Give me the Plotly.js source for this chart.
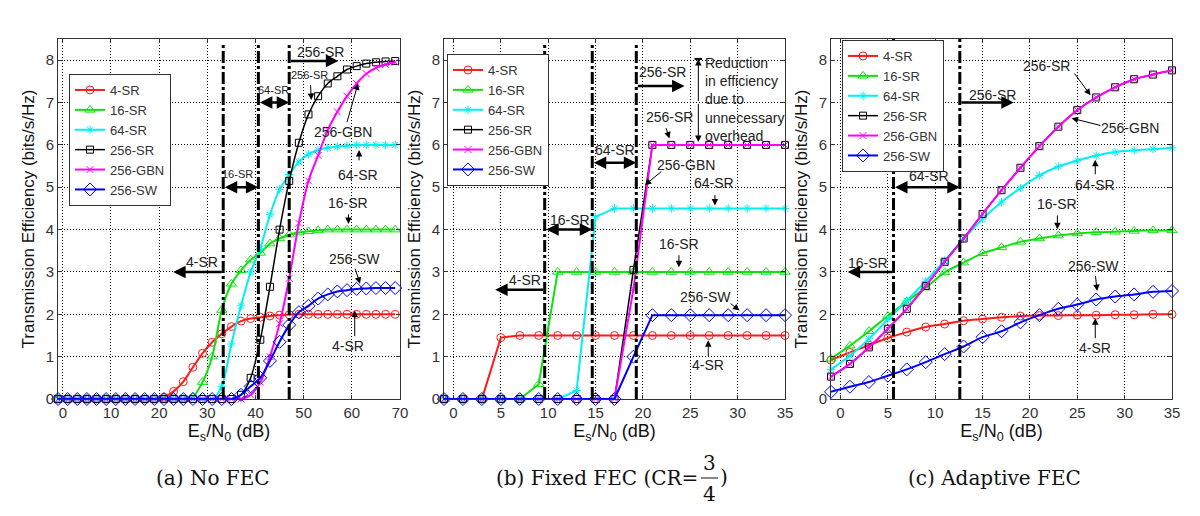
<!DOCTYPE html>
<html>
<head>
<meta charset="utf-8">
<script src="https://cdn.plot.ly/plotly-3.0.1.min.js"></script>
<style>html,body{margin:0;padding:0;background:#fff}#chart{width:1200px;height:516px}</style>
</head>
<body>
<div id="chart"></div>
<script>
// ---------------- DATA ----------------
const seriesNames = ['4-SR', '16-SR', '64-SR', '256-SR', '256-GBN', '256-SW'];

// (a) No FEC
const xA = [-1,1,3,5,7,9,11,13,15,17,19,21,23,25,27,29,31,33,35,37,39,41,43,45,47,49,51,53,55,57,59,61,63,65,67,69];
const a4SR   = [0,0,0,0,0,0,0,0,0,0,0,0.04,0.18,0.41,0.75,1.08,1.34,1.54,1.71,1.84,1.9,1.93,1.96,1.98,1.99,2,2,2,2,2,2,2,2,2,2,2];
const a16SR  = [0,0,0,0,0,0,0,0,0,0,0,0,0,0,0.05,0.4,1.0,2.1,2.72,3.04,3.29,3.45,3.67,3.79,3.88,3.93,3.96,3.98,4,4,4,4,4,4,4,4];
const a64SR  = [0,0,0,0,0,0,0,0,0,0,0,0,0,0,0,0,0,0.3,1.3,2.2,3.0,3.55,4.35,4.95,5.3,5.6,5.78,5.88,5.93,5.96,5.98,6,6,6,6,6];
const a256SR = [0,0,0,0,0,0,0,0,0,0,0,0,0,0,0,0,0,0,0,0.1,0.5,1.4,2.65,4.0,5.15,6.05,6.72,7.15,7.45,7.62,7.78,7.86,7.92,7.95,7.97,7.98];
const a256GBN= [0,0,0,0,0,0,0,0,0,0,0,0,0,0,0,0,0,0,0,0,0.1,0.4,1.0,1.78,2.85,4.15,5.15,5.75,6.35,6.78,7.15,7.45,7.68,7.82,7.9,7.95];
const a256SW = [0,0,0,0,0,0,0,0,0,0,0,0,0,0,0,0,0,0,0,0.1,0.3,0.5,0.9,1.35,1.75,2.05,2.2,2.37,2.47,2.54,2.57,2.6,2.61,2.62,2.62,2.62];

// (b) Fixed FEC
const xB = [-1,1,3,5,7,9,11,13,15,17,19,21,23,25,27,29,31,33,35];
const b4SR   = [0,0,0,1.45,1.5,1.5,1.5,1.5,1.5,1.5,1.5,1.5,1.5,1.5,1.5,1.5,1.5,1.5,1.5];
const b16SR  = [0,0,0,0,0,0.35,3,3,3,3,3,3,3,3,3,3,3,3,3];
const b64SR  = [0,0,0,0,0,0,0,0.2,4.3,4.5,4.5,4.5,4.5,4.5,4.5,4.5,4.5,4.5,4.5];
const b256SR = [0,0,0,0,0,0,0,0,0,0,3.05,6,6,6,6,6,6,6,6];
const b256GBN= [0,0,0,0,0,0,0,0,0,0,2.6,6,6,6,6,6,6,6,6];
const b256SW = [0,0,0,0,0,0,0,0,0,0,1.0,1.98,1.98,1.98,1.98,1.98,1.98,1.98,1.98];

// (c) Adaptive FEC
const xC = [-1,1,3,5,7,9,11,13,15,17,19,21,23,25,27,29,31,33,35];
const c4SR   = [0.92,1.1,1.27,1.44,1.58,1.7,1.77,1.85,1.89,1.93,1.96,1.97,1.97,1.98,1.98,1.99,1.99,2,2];
const c16SR  = [0.95,1.26,1.6,1.96,2.3,2.63,2.99,3.22,3.44,3.58,3.71,3.79,3.86,3.91,3.94,3.95,3.97,3.98,3.98];
const c64SR  = [0.7,1.02,1.42,1.88,2.32,2.78,3.27,3.78,4.25,4.65,4.98,5.28,5.49,5.63,5.75,5.83,5.87,5.9,5.93];
const c256SR = [0.53,0.83,1.22,1.66,2.13,2.67,3.24,3.79,4.37,4.93,5.46,5.97,6.43,6.82,7.12,7.36,7.55,7.66,7.76];
const c256GBN= [0.53,0.83,1.22,1.66,2.13,2.67,3.24,3.79,4.37,4.93,5.46,5.97,6.43,6.82,7.12,7.36,7.55,7.66,7.76];
const c256SW = [0.17,0.29,0.4,0.55,0.7,0.87,1.06,1.24,1.46,1.6,1.81,1.98,2.13,2.23,2.35,2.42,2.47,2.53,2.55];

const xTicksA = [0,10,20,30,40,50,60,70];
const xTicksBC = [0,5,10,15,20,25,30,35];
const yTicks = [0,1,2,3,4,5,6,7,8];
const captions = ['(a) No FEC', '(b) Fixed FEC (CR=', '(c) Adaptive FEC'];

// ---------------- STYLE ----------------
const FONT = 'Liberation Sans, Arial, sans-serif';
const TXT = '#222';
const styles = {
  '4-SR':   {color:'#ff1a1a', symbol:'circle-open', size:8, width:2},
  '16-SR':  {color:'#10e010', symbol:'triangle-up-open', size:9, width:2},
  '64-SR':  {color:'#00f0f0', symbol:'asterisk-open', size:7, width:2},
  '256-SR': {color:'#000000', symbol:'square-open', size:7, width:1.5},
  '256-GBN':{color:'#ff00ff', symbol:'x-thin-open', size:7, width:2},
  '256-SW': {color:'#0000ff', symbol:'diamond-open', size:10, width:2}
};

const panels = [
  {x:xA, ys:[a4SR,a16SR,a64SR,a256SR,a256GBN,a256SW], xa:'x', ya:'y', lg:'legend', shape:'spline'},
  {x:xB, ys:[b4SR,b16SR,b64SR,b256SR,b256GBN,b256SW], xa:'x2', ya:'y2', lg:'legend2', shape:'linear'},
  {x:xC, ys:[c4SR,c16SR,c64SR,c256SR,c256GBN,c256SW], xa:'x3', ya:'y3', lg:'legend3', shape:'spline'}
];

const traces = [];
panels.forEach(p => {
  seriesNames.forEach((n, i) => {
    const s = styles[n];
    traces.push({
      type:'scatter', mode:'lines+markers', name:n, x:p.x, y:p.ys[i],
      xaxis:p.xa, yaxis:p.ya, legend:p.lg, cliponaxis:false,
      line:{color:s.color, width:s.width, shape:p.shape, smoothing:0.8},
      marker:{symbol:s.symbol, size:s.size, color:s.color, line:{color:s.color, width:1}},
      hoverinfo:'skip'
    });
  });
});

function xaxisDef(domain, range, ticks, anchor) {
  return {domain, range, anchor, tickvals:ticks, ticktext:ticks.map(String),
    showgrid:true, gridcolor:'#000', gridwidth:1, griddash:'1px,2px', zeroline:false,
    showline:true, linecolor:'#333', linewidth:1, mirror:'ticks', ticks:'inside', ticklen:4, tickcolor:'#333',
    tickfont:{family:FONT, size:15, color:'#333'},
    title:{text:'E<sub>s</sub>/N<sub>0</sub> (dB)', font:{family:FONT, size:18, color:'#111'}, standoff:0}};
}
function yaxisDef(anchor) {
  return {domain:[0.2267, 0.9244], range:[0, 8.5], anchor, tickvals:yTicks, ticktext:yTicks.map(String),
    showgrid:true, gridcolor:'#000', gridwidth:1, griddash:'1px,2px', zeroline:false,
    showline:true, linecolor:'#333', linewidth:1, mirror:'ticks', ticks:'inside', ticklen:4, tickcolor:'#333',
    tickfont:{family:FONT, size:15, color:'#333'},
    title:{text:'Transmission Efficiency (bits/s/Hz)', font:{family:FONT, size:17, color:'#111'}, standoff:6}};
}
function legendDef(x, y) {
  return {x, y, xanchor:'left', yanchor:'top', xref:'paper', yref:'paper', bgcolor:'#fff',
    bordercolor:'#333', borderwidth:1, font:{family:FONT, size:13, color:'#333'},
    itemwidth:30, tracegroupgap:0, itemclick:false};
}

const ann = [];
function label(ax, text, x, y, size) {
  ann.push({xref:ax[0], yref:ax[1], x, y, text, showarrow:false,
    font:{family:FONT, size:size||14, color:TXT}});
}
function thick(ax, tx, ty, hx, hy, both) {
  ann.push({xref:ax[0], yref:ax[1], axref:ax[0], ayref:ax[1], x:hx, y:hy, ax:tx, ay:ty, text:'',
    showarrow:true, arrowhead:2, startarrowhead:2, arrowsize:1, startarrowsize:1, arrowwidth:2.5, arrowcolor:'#000',
    arrowside: both ? 'end+start' : 'end', standoff:0, startstandoff:0});
}
function thin(ax, tx, ty, hx, hy, both) {
  ann.push({xref:ax[0], yref:ax[1], axref:ax[0], ayref:ax[1], x:hx, y:hy, ax:tx, ay:ty, text:'',
    showarrow:true, arrowhead:2, startarrowhead:2, arrowsize:1.3, startarrowsize:1.3, arrowwidth:1, arrowcolor:'#000',
    arrowside: both ? 'end+start' : 'end', standoff:0, startstandoff:0});
}
const A = ['x','y'], B = ['x2','y2'], C = ['x3','y3'];

// panel a
label(A,'4-SR',28.8,3.23,14); label(A,'16-SR',36.2,5.32,11); label(A,'64-SR',43.7,7.3,11);
label(A,'256-SR',53.4,8.2,14); label(A,'256-SR',51.3,7.65,11); label(A,'256-GBN',58.2,6.3,14);
label(A,'64-SR',61.3,5.28,14); label(A,'16-SR',59.2,4.63,14); label(A,'256-SW',60.6,3.31,14); label(A,'4-SR',59.2,1.26,14);
thick(A,33.3,3.0,22.9,3.0); thick(A,33.3,5.0,40.6,5.0,true); thick(A,40.6,7.0,47,7.0,true); thick(A,47,7.98,57.2,7.98);
thin(A,51.4,7.45,51.6,7.06); thin(A,58.9,6.5,61.3,7.45); thin(A,61.5,5.6,61.5,5.88);
thin(A,59.3,4.4,59.3,4.13); thin(A,60.6,3.11,61.7,2.72); thin(A,60.6,1.45,60.6,2.09);

// panel b
label(B,'4-SR',7.5,2.8); label(B,'16-SR',12.3,4.23); label(B,'64-SR',17.0,5.88); label(B,'256-SR',22.1,7.73);
ann.push({xref:'x2', yref:'y2', x:26.3, y:7.06, xanchor:'left', align:'left', showarrow:false,
  text:'Reduction<br>in efficiency<br>due to<br>unnecessary<br>overhead', font:{family:FONT, size:14, color:TXT}});
label(B,'256-SR',22.8,6.65); label(B,'256-GBN',24.5,5.52); label(B,'64-SR',27.5,5.1);
label(B,'16-SR',23.8,3.65); label(B,'256-SW',26.6,2.42); label(B,'4-SR',26.9,0.8);
thick(B,9.63,2.58,4.4,2.58); thick(B,9.63,4.0,14.65,4.0,true); thick(B,14.65,5.58,19.3,5.58,true); thick(B,19.3,7.39,24.4,7.39);
thin(B,25.85,7.0,25.85,8.03); thin(B,25.85,7.0,25.85,6.07);
thin(B,22.4,6.43,22.8,6.15); thin(B,22.1,5.4,20.2,5.05); thin(B,27.6,4.85,27.6,4.57);
thin(B,23.8,3.43,23.8,3.11); thin(B,29.1,2.28,30.2,2.09); thin(B,26.9,0.98,26.9,1.39);

// panel c
label(C,'16-SR',2.86,3.2); label(C,'64-SR',9.35,5.26); label(C,'256-SR',16.0,7.17); label(C,'256-SR',21.8,7.87);
label(C,'256-GBN',30.6,6.4); label(C,'64-SR',26.9,5.06); label(C,'16-SR',22.9,4.6); label(C,'256-SW',26.7,3.14); label(C,'4-SR',26.9,1.2);
thick(C,5.6,3.0,0.76,3.0); thick(C,5.6,5.0,12.6,5.0,true); thick(C,12.6,7.0,18.3,7.0);
thin(C,24.6,7.72,26.4,7.17); thin(C,27.6,6.45,24.4,6.63); thin(C,26.9,5.27,26.9,5.65);
thin(C,22.9,4.37,22.9,4.01); thin(C,26.9,2.94,27.1,2.55); thin(C,26.9,1.4,26.9,1.91);

// captions
const CAPF = {family:'DejaVu Serif, serif', size:20, color:'#111'};
function cap(x, y, text, xanchor) {
  ann.push({xref:'paper', yref:'paper', x:x/1200, y:1-y/516, xanchor:xanchor||'center', yanchor:'middle',
    text, showarrow:false, font:CAPF});
}
cap(213, 478, captions[0]);
cap(700, 478, captions[1], 'right');
cap(709.5, 463, '3');
cap(709.5, 494, '4');
cap(718, 477, ')', 'left');
cap(994, 478, captions[2]);

const shapes = [];
function vline(xr, yr, x, top) {
  shapes.push({type:'line', xref:xr, yref:yr, x0:x, x1:x, y0:0, y1:top, layer:'above',
    line:{color:'#000', width:3, dash:'12px,3px,3px,3px'}});
}
vline('x','y',33.3,8.42); vline('x','y',40.6,8.42); vline('x','y',47,8.42);
vline('x2','y2',9.63,8.38); vline('x2','y2',14.65,8.4); vline('x2','y2',19.3,8.4);
vline('x3','y3',5.6,8.5); vline('x3','y3',12.6,8.5);
shapes.push({type:'line', xref:'x2', yref:'y2', x0:25.45, x1:26.25, y0:8.03, y1:8.03, line:{color:'#000', width:2}});
shapes.push({type:'line', xref:'paper', yref:'paper', x0:701/1200, x1:718/1200, y0:1-478/516, y1:1-478/516, line:{color:'#111', width:1}});

const layout = {
  width:1200, height:516, margin:{l:0, r:0, t:0, b:0}, paper_bgcolor:'#fff', plot_bgcolor:'#fff',
  font:{family:FONT, color:'#222'}, showlegend:true,
  xaxis: xaxisDef([58/1200, 400/1200], [-1, 70], xTicksA, 'y'),
  yaxis: yaxisDef('x'),
  xaxis2: xaxisDef([444/1200, 785/1200], [-1, 35], xTicksBC, 'y2'),
  yaxis2: yaxisDef('x2'),
  xaxis3: xaxisDef([831/1200, 1172/1200], [-1, 35], xTicksBC, 'y3'),
  yaxis3: yaxisDef('x3'),
  legend: legendDef(69/1200, 1-74/516),
  legend2: legendDef(447/1200, 1-54/516),
  legend3: legendDef(842/1200, 1-40/516),
  annotations: ann, shapes
};

Plotly.newPlot('chart', traces, layout, {displayModeBar:false, staticPlot:true});
</script>
</body>
</html>
